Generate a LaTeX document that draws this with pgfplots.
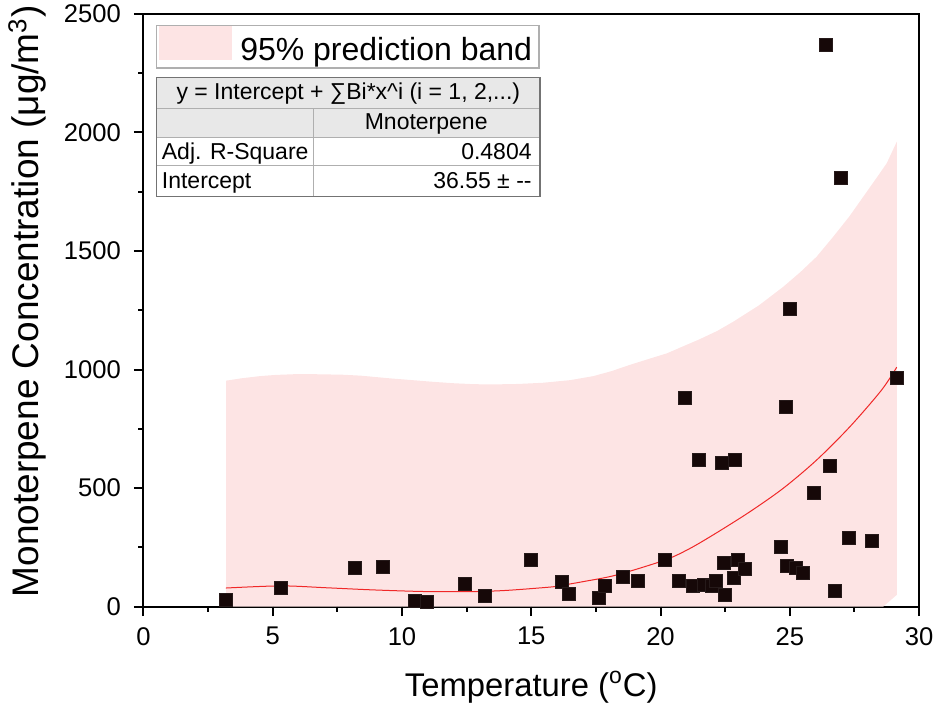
\documentclass[border=0pt]{standalone}
\usepackage{fontspec}
\setmainfont{Liberation Sans}
\usepackage{pgfplots}
\pgfplotsset{compat=1.18}

\definecolor{bandpink}{RGB}{253,228,228}
\definecolor{fitred}{RGB}{240,40,40}
\definecolor{markfill}{RGB}{22,8,8}
\definecolor{hdrgray}{RGB}{232,232,232}
\definecolor{rulegray}{RGB}{175,175,175}

\newcommand{\tickfont}{\fontsize{12.8}{15}\selectfont}
\newcommand{\tabfont}{\fontsize{11.5}{13}\selectfont}

\begin{document}
\begin{tikzpicture}
\begin{axis}[
  scale only axis,
  width=387.75pt, height=296.25pt,
  xmin=0, xmax=30, ymin=0, ymax=2500,
  xtick={0,5,...,30}, ytick={0,500,...,2500},
  minor x tick num=1, minor y tick num=1,
  tick align=outside,
  tick pos=left,
  major tick length=4.8pt, minor tick length=2.7pt,
  tick style={black, line width=1pt},
  axis line style={line width=1pt},
  /pgf/number format/assume math mode=true,
  /pgf/number format/set thousands separator={},
  ticklabel style={font=\tickfont},
  xticklabel style={yshift=-2pt},
  yticklabel style={xshift=-3pt},
  xlabel={Temperature (\textsuperscript{o}C)},
  ylabel={Monoterpene Concentration (μg/m\textsuperscript{3})},
  xlabel style={font=\fontsize{16.4}{19}\selectfont, at={(axis description cs:0.5,0)}, anchor=base, yshift=-44.75pt},
  ylabel style={font=\fontsize{18.5}{22}\selectfont, at={(axis description cs:0,0.515)}, anchor=base, yshift=52.25pt},
  clip=false,
  legend style={at={(0.0157,0.981)}, anchor=north west, draw=rulegray, line width=0.6pt,
    font=\fontsize{16}{19}\selectfont, inner xsep=1.5pt, inner ysep=0pt},
  % outward tick marks on the bottom and left axes
  after end axis/.code={
    \foreach \t in {0,5,...,30}
      \draw[black, line width=1pt] (axis cs:\t,0) -- ++(0,-4.8pt);
    \foreach \t in {2.5,7.5,...,27.5}
      \draw[black, line width=1pt] (axis cs:\t,0) -- ++(0,-2.7pt);
    \foreach \t in {0,500,...,2500}
      \draw[black, line width=1pt] (axis cs:0,\t) -- ++(-4.8pt,0);
    \foreach \t in {250,750,...,2250}
      \draw[black, line width=1pt] (axis cs:0,\t) -- ++(-2.7pt,0);
  },
]

% 95% prediction band: upper limit, then back along the lower limit
\addplot[fill=bandpink, draw=none,
  legend image code/.code={\fill[bandpink] (0pt,-4.5pt) rectangle (36.3pt,12.5pt);
    \path (38.5pt,0pt);}]
  coordinates {
  (3.2,0) (3.2,953) (3.8,963) (4.5,972) (5.1,977) (5.8,980) (6.7,980)
  (7.7,978) (8.4,974) (9.0,968) (9.6,962) (10.3,956) (11.2,948) (12.0,942)
  (12.8,938) (13.5,937) (14.5,939) (15.45,944) (16.5,955) (17.4,972)
  (18.1,993) (18.8,1019) (19.5,1043) (20.24,1068) (21.5,1127) (22.2,1163)
  (22.82,1202) (23.8,1270) (24.75,1349) (25.4,1410) (26.04,1476)
  (26.68,1560) (27.3,1645) (27.98,1750) (28.4,1815) (28.75,1870)
  (29.14,1961) (29.14,49) (28.62,0)
} -- cycle;
\addlegendentry{95\% prediction band}

% polynomial fit
\addplot[fitred, line width=0.5pt, smooth, forget plot] coordinates {
  (3.19,78) (5.32,87) (7.09,79) (8.89,70) (10.95,63) (12.76,63) (14.05,68)
  (15.73,82) (16.11,88) (17.01,105) (18.30,133) (20.17,196) (21.14,245)
  (22.17,311) (23.46,400) (24.75,499) (26.04,618) (27.33,759) (28.55,913)
  (29.14,1010)
};

% measurements
\addplot[only marks, mark=square*, mark size=3.25pt,
  mark options={fill=markfill, draw=markfill!85!gray, line width=0.3pt}, forget plot]
  coordinates {
  (3.19,27) (5.32,77) (8.16,164) (9.24,168) (10.50,23) (10.96,20)
  (12.44,95) (13.21,47) (14.98,198) (16.19,106) (16.46,54) (17.63,37)
  (17.83,86) (18.54,126) (19.12,108) (20.17,199) (20.69,110) (20.95,881)
  (21.26,88) (21.48,621) (21.66,91) (22.00,88) (22.14,109) (22.38,608)
  (22.46,185) (22.50,49) (22.84,122) (22.89,618) (23.00,196) (23.28,158)
  (24.65,250) (24.83,843) (24.90,172) (25.01,1255) (25.25,165) (25.50,144)
  (25.94,478) (26.40,2370) (26.53,593) (26.74,68) (26.98,1809) (27.30,288)
  (28.19,276) (29.14,965)
};
\end{axis}

% fit summary table (pixel coordinates of the reference)
\begin{scope}[shift={(-71.75pt,303.25pt)}, x=0.5pt, y=-0.5pt]
  \fill[hdrgray] (156.7,77.3) rectangle (540,137.7);
  \draw[rulegray, line width=0.5pt] (156.7,108.3) -- (540,108.3)
    (156.7,137.7) -- (540,137.7) (156.7,165.7) -- (540,165.7)
    (313.3,108.3) -- (313.3,196.7);
  \draw[black!55, line width=0.6pt] (156.7,77.3) rectangle (540,196.7);
  \node[font=\tabfont, anchor=base, inner sep=0pt] at (348.3,100)
    {y = Intercept + ∑Bi*x\textasciicircum i (i = 1, 2,...)};
  \node[font=\tabfont, anchor=base, inner sep=0pt] at (426.2,130) {Mnoterpene};
  \node[font=\tabfont, anchor=base west, inner sep=0pt] at (161.5,160) {Adj. R-Square};
  \node[font=\tabfont, anchor=base east, inner sep=0pt] at (532,160) {0.4804};
  \node[font=\tabfont, anchor=base west, inner sep=0pt] at (161.5,189) {Intercept};
  \node[font=\tabfont, anchor=base east, inner sep=0pt] at (532,189) {36.55 ± {-}{-}};
\end{scope}

\pgfresetboundingbox
\path[use as bounding box] (-71.75pt,-50.25pt) rectangle (396.75pt,303.25pt);
\end{tikzpicture}
\end{document}
